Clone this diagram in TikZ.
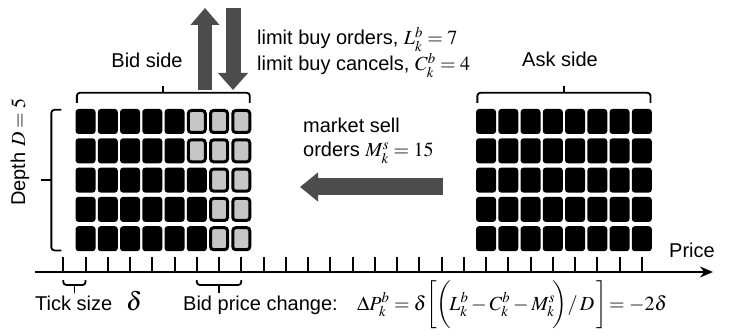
\documentclass[tikz,border=0pt]{standalone}
\usepackage{amsmath}
\usepackage{mathptmx}
\usepackage[no-math]{fontspec}
\setmainfont{Liberation Sans}
\usepackage{tikz}
\usetikzlibrary{arrows.meta,calc}

\begin{document}
\begin{tikzpicture}[
    x=1pt, y=1pt,
    font=\fontsize{20}{22}\selectfont,
    blk/.style={fill=black, rounded corners=3pt, inner sep=0pt,
                minimum width=20pt, minimum height=25pt},
    gblk/.style={draw=black, line width=3pt, fill=gray!45, rounded corners=3pt,
                 inner sep=0pt, minimum width=17pt, minimum height=22pt},
    brk/.style={line width=1.8pt, rounded corners=3pt},
    bigarr/.style={line width=#1, black!70},
    tck/.style={line width=2pt},
    lbl/.style={inner sep=0pt}
  ]
  \useasboundingbox (0,0) rectangle (744,335);

  % Bid side (gray = removed orders)
  \foreach \r in {1,...,5}{
    \foreach \c in {1,...,8}{
      \pgfmathtruncatemacro{\isgray}{(\c>6) || (\c==6 && \r<3)}
      \ifnum\isgray=1
        \node[gblk] (bid-\r-\c) at ({63.3+22.25*\c},{213.5-29.3*(\r-1)}) {};
      \else
        \node[blk] (bid-\r-\c) at ({63.3+22.25*\c},{213.5-29.3*(\r-1)}) {};
      \fi
    }
  }

  % Ask side
  \foreach \r in {1,...,5}{
    \foreach \c in {1,...,8}{
      \node[blk] (ask-\r-\c) at ({63.3+22.25*(\c+18)},{213.5-29.3*(\r-1)}) {};
    }
  }

  % Brackets and side labels
  \draw[brk] ([shift={(1.5pt,6pt)}]bid-1-1.north west) -- ++(0,10) -| ([shift={(-1.5pt,6pt)}]bid-1-8.north east);
  \draw[brk] ($(bid-1-1.north west)!0.5!(bid-1-8.north east)+(0,16)$) -- ++(0,7);
  \draw[brk] ([shift={(1.5pt,6pt)}]ask-1-1.north west) -- ++(0,10) -| ([shift={(-1.5pt,6pt)}]ask-1-8.north east);
  \draw[brk] ($(ask-1-1.north west)!0.5!(ask-1-8.north east)+(0,16)$) -- ++(0,7);
  \node[lbl, anchor=base] (bidlbl) at (147,267) {Bid side};
  \node[lbl, anchor=base] (asklbl) at (560,268) {Ask side};

  \draw[brk] ([shift={(-14pt,1pt)}]bid-5-1.south west) -- ++(-10,0) |- ([shift={(-14pt,-1pt)}]bid-1-1.north west);
  \draw[brk] ($(bid-5-1.south west)!0.5!(bid-1-1.north west)+(-24,0)$) -- ++(-10,0);
  \node[lbl, rotate=90] (depthlbl) at (20,183) {Depth $D=5$};

  % Price axis
  \coordinate (axstart) at (35,63);
  \coordinate (axend) at (713,63);
  \draw[line width=2.5pt, -{Stealth[length=13pt, width=11pt]}] (axstart) -- (axend);
  \foreach \k in {0,...,26}{
    \coordinate (t\k) at ({63.3+22.25*\k},63);
    \draw[tck] (t\k) -- ++(0,15);
  }
  \node[lbl, anchor=base] (pricelbl) at (692,78) {Price};

  % Tick size and bid price change
  \draw[brk] ([yshift=-8pt]t0) -- ++(0,-5) -| ([yshift=-8pt]t1);
  \draw[brk] ($(t0)!0.5!(t1)+(0,-13)$) -- ++(0,-8);
  \draw[brk] ([yshift=-8pt]t6) -- ++(0,-5) -| ([yshift=-8pt]t8);
  \draw[brk] ($(t6)!0.5!(t8)+(0,-13)$) -- ++(0,-8);
  \node[lbl, anchor=base west] (ticklbl) at (35,25)
    {Tick size\hspace{14pt}{\fontsize{26}{28}\selectfont$\delta$}};
  \node[lbl, anchor=base west] (changelbl) at (183,25)
    {Bid price change:};
  \node[lbl, anchor=base west] (formula) at (357,25)
    {$\Delta P_k^b=\delta\!\left[\!\rule[-21pt]{0pt}{48pt}\left(\!\rule[-16pt]{0pt}{38pt}L_k^b-C_k^b-M_k^s\!\right)\!/\,D\,\right]\!=-2\delta$};

  % Limit buy orders / cancels
  \coordinate (upfoot) at (205,245);
  \coordinate (uptip) at (205,327);
  \coordinate (dntop) at (233,327);
  \coordinate (dntip) at (233,245);
  \draw[bigarr=14pt, -{Triangle[length=17pt, width=28pt]}] (upfoot) -- (uptip);
  \draw[bigarr=15pt, -{Triangle[length=17pt, width=29pt]}] (dntop) -- (dntip);
  \node[lbl, anchor=base west] (lbo) at (257,290) {limit buy orders, $L_k^b=7$};
  \node[lbl, anchor=base west] (lbc) at (257,264) {limit buy cancels, $C_k^b=4$};

  % Market sell orders
  \coordinate (msfoot) at (443,148);
  \coordinate (mstip) at (300,148);
  \draw[bigarr=17pt, -{Triangle[length=18pt, width=28pt]}] (msfoot) -- (mstip);
  \node[lbl, anchor=base west] (mso1) at (303,202) {market sell};
  \node[lbl, anchor=base west] (mso2) at (303,178) {orders $M_k^s=15$};
\end{tikzpicture}
\end{document}
